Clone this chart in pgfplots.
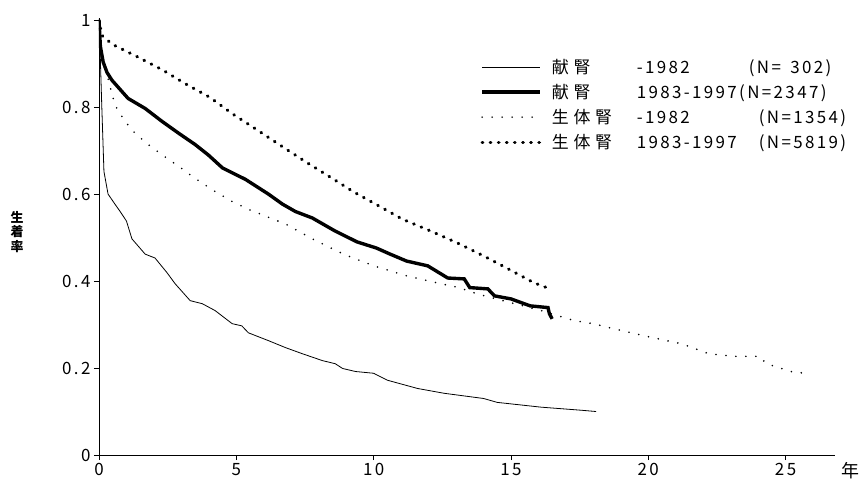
\documentclass[border=0pt]{standalone}
\usepackage{pgfplots}
\pgfplotsset{compat=1.18}
\usepackage{fontspec}
\setmainfont{Noto Sans CJK JP}
% digits and CJK with tracking
\newfontfamily\jpn[LetterSpace=14]{Noto Sans CJK JP}
\newfontfamily\jpk[LetterSpace=28]{Noto Sans CJK JP}
\newcommand{\kj}[1]{{\jpk\fontsize{17}{17}\selectfont #1}}

% donor kidney -1982
\pgfplotstableread{
x y
0 1
0.03 0.95
0.1 0.805
0.18 0.652
0.33 0.60
0.58 0.577
0.77 0.56
1.0 0.538
1.2 0.497
1.68 0.462
2.04 0.453
2.48 0.419
2.77 0.394
3.32 0.355
3.76 0.348
4.23 0.332
4.85 0.302
5.2 0.297
5.44 0.281
6.17 0.263
6.79 0.247
7.4 0.233
8.14 0.217
8.6 0.21
8.87 0.199
9.34 0.192
10.0 0.188
10.5 0.172
11.6 0.153
12.56 0.142
14.0 0.130
14.5 0.121
16.1 0.11
17.55 0.103
18.1 0.10
}\cadA

% donor kidney 1983-1997
\pgfplotstableread{
x y
0 1
0.05 0.94
0.15 0.904
0.29 0.88
0.47 0.862
1.06 0.82
1.68 0.797
2.3 0.767
2.9 0.74
3.5 0.714
3.98 0.69
4.5 0.66
5.33 0.634
6.17 0.60
6.68 0.577
7.15 0.56
7.77 0.545
8.6 0.515
9.4 0.490
10.1 0.476
10.6 0.462
11.2 0.446
11.97 0.435
12.7 0.407
13.3 0.405
13.5 0.385
14.16 0.382
14.4 0.366
15.0 0.359
15.7 0.343
16.35 0.339
16.4 0.325
16.5 0.313
}\cadB

% living kidney -1982
\pgfplotstableread{
x y
0 1
0.08 0.93
0.33 0.865
0.58 0.805
0.95 0.767
1.31 0.74
1.79 0.714
2.3 0.69
2.9 0.664
3.5 0.636
4.23 0.606
4.85 0.583
5.44 0.565
5.8 0.556
6.8 0.531
7.77 0.497
8.9 0.462
10.0 0.435
11.2 0.412
12.3 0.396
13.1 0.385
13.8 0.37
16.1 0.332
17.3 0.309
18.0 0.302
18.76 0.29
20.0 0.272
21.2 0.256
22.2 0.233
23.1 0.227
24.05 0.227
24.3 0.21
25.3 0.19
25.8 0.188
}\livA

% living kidney 1983-1997
\pgfplotstableread{
x y
0 1
0.1 0.965
0.2 0.96
0.47 0.945
1.42 0.915
2.3 0.886
3.14 0.854
4.05 0.822
4.85 0.785
5.7 0.75
6.68 0.709
7.63 0.67
8.5 0.636
9.27 0.605
9.9 0.583
11.06 0.542
12.08 0.515
13.07 0.487
14.0 0.458
14.9 0.428
15.84 0.396
16.3 0.385
}\livB

\begin{document}
\begin{tikzpicture}
  \begin{axis}[
      scale only axis,
      width=736bp, height=437bp,
      xmin=0, xmax=26.8,
      ymin=0, ymax=1.005,
      axis lines=left,
      axis line style={-, line width=0.8pt},
      xtick={0,5,10,15,20,25},
      xticklabels={0,5,10,15,20,25},
      ytick={0,0.2,0.4,0.6,0.8,1},
      yticklabels={0,0.2,0.4,0.6,0.8,1},
      tick align=outside,
      major tick length=5bp,
      tick style={black, line width=0.8pt},
      ticklabel style={font=\jpn\fontsize{17}{17}\selectfont},
      xlabel={年},
      every axis x label/.style={at={(rel axis cs:1,0)}, anchor=west,
        xshift=3bp, yshift=-16bp, font=\jpk\fontsize{18}{18}\selectfont},
      ylabel={\shortstack{生\\[-1bp]着\\[-1bp]率}},
      every axis y label/.style={at={(rel axis cs:0,0.51)}, anchor=center,
        xshift=-82bp, font=\bfseries\fontsize{13}{13}\selectfont},
      legend style={draw=none, fill=none, at={(rel axis cs:0.518,0.906)},
        anchor=north west, font=\jpn\fontsize{17}{17}\selectfont,
        row sep=9.3bp, inner sep=0pt,
        nodes={inner xsep=0bp, inner ysep=0pt}},
      legend cell align=left,
      legend image code/.code={\draw[#1] (0bp,0bp) -- (58bp,0bp); \path (68bp,0bp);},
    ]
    \addplot[black, line width=0.8pt] table {\cadA};
    \addlegendentry{\makebox[85bp][l]{\kj{献腎}}\makebox[112bp][l]{-1982}(N=\phantom{0}302)}
    \addplot[black, line width=3.4pt] table {\cadB};
    \addlegendentry{\makebox[85bp][l]{\kj{献腎}}1983-1997(N=2347)}
    \addplot[black, line width=1.8pt, line cap=round, dash pattern=on 0pt off 10bp] table {\livA};
    \addlegendentry{\makebox[85bp][l]{\kj{生体腎}}\makebox[122bp][l]{-1982}(N=1354)}
    \addplot[black, line width=3.2pt, line cap=round, dash pattern=on 0.6pt off 7.5bp] table {\livB};
    \addlegendentry{\makebox[85bp][l]{\kj{生体腎}}\makebox[122bp][l]{1983-1997}(N=5819)}
  \end{axis}
  \pgfresetboundingbox
  \path[use as bounding box] (-99bp,-31bp) rectangle (763bp,455bp);
\end{tikzpicture}
\end{document}
